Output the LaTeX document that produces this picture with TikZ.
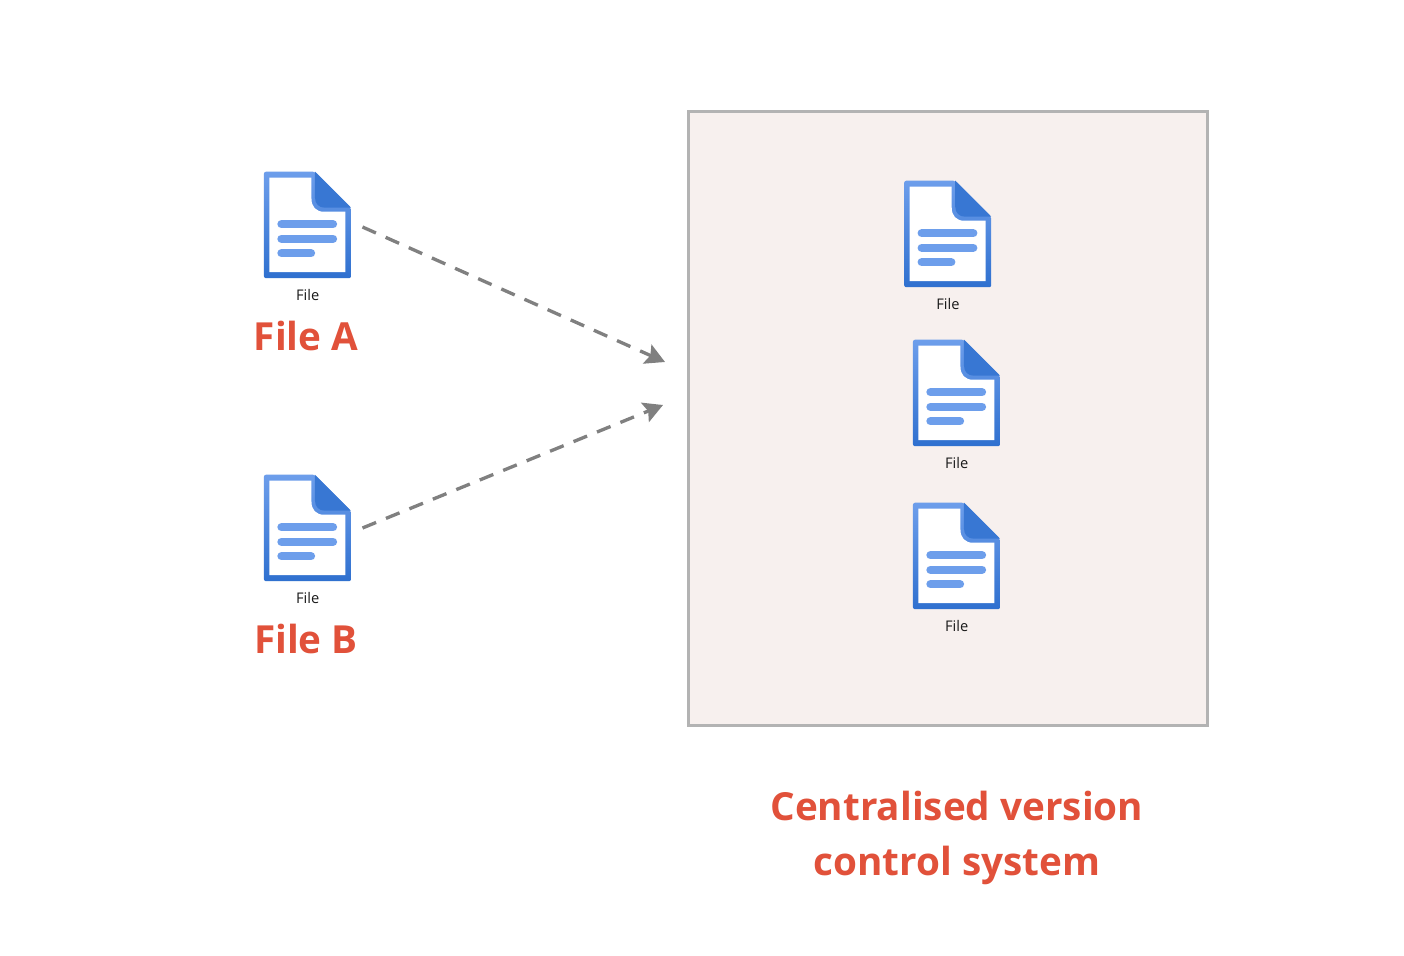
\documentclass[tikz,border=0pt]{standalone}
\usepackage{fontspec}
\setmainfont{Open Sans}
\usetikzlibrary{positioning,arrows.meta}
\definecolor{iconlight}{HTML}{6D9EEB}
\definecolor{icondark}{HTML}{2F70CF}
\definecolor{foldblue}{HTML}{3877D3}
\definecolor{titlered}{HTML}{E1513A}
\definecolor{boxfill}{HTML}{F7F0EE}
\definecolor{boxline}{HTML}{B3B3B3}
\definecolor{flowgrey}{HTML}{808080}
\tikzset{
 fileicon/.pic={
  \path[rounded corners=1.5,top color=iconlight,bottom color=icondark]
   (0,0) -- (51,0) -- (87,36) -- (87,106.5) -- (0,106.5) -- cycle;
  \fill[white] (5.5,6) -- (47.5,6) -- (47.5,27) .. controls (47.5,35) and (52,40) .. (60,40)
   -- (81.5,40) -- (81.5,100.5) -- (5.5,100.5) -- cycle;
  \fill[foldblue] (51,0) -- (87,36) -- (61,36) .. controls (55,36) and (51,32) .. (51,26) -- cycle;
  \foreach \ypos/\xend in {52.5/69,67/69,81.5/47}
   \draw[iconlight,line width=6.25pt,line cap=round] (17.5,\ypos) -- (\xend,\ypos);
 },
 filebox/.style={minimum width=65.25pt,minimum height=79.5pt,inner sep=0pt},
 filetext/.style={font=\fontsize{11}{12}\selectfont,text=black!90,inner sep=0pt},
 redtitle/.style={font=\fontsize{29}{41.5}\selectfont\bfseries,text=titlered,align=center,inner sep=0pt},
 flowline/.style={flowgrey,line width=2.5pt,dash pattern=on 11pt off 8pt,
  -{Stealth[length=14.5pt,width=15.5pt,inset=2.5pt]}},
}
\begin{document}
\begin{tikzpicture}[x=0.75pt,y=-0.75pt]
 \useasboundingbox (0,0) rectangle (1404,956);
 \fill[white] (0,0) rectangle (1404,956);
 \node [draw=boxline,fill=boxfill,line width=2.25pt,minimum width=389.25pt,minimum height=460.5pt,inner sep=0pt] (vcs) at (947.5,418.5) {};
 % files
 \node [filebox] (fileA) at (307.75,225) {};
 \node [filebox] (fileB) at (307.75,528) {};
 \node [filebox] (fileC) at (948,234) {};
 \node [filebox] (fileD) at (956.75,393) {};
 \node [filebox] (fileE) at (956.75,556) {};
 \foreach \name in {fileA,fileB,fileC,fileD,fileE} {
  \pic at (\name.north west) {fileicon};
  \node [filetext,below=8pt of \name.south] (\name text) {File};
 }
 \node [redtitle] (titleA) at (306,336) {File A};
 \node [redtitle] (titleB) at (306,639) {File B};
 \node [redtitle,below=47.75pt of vcs.south,xshift=7pt] (titleVcs) {Centralised version\\control system};
 % arrows
 \coordinate (inA) at (665,362);
 \coordinate (inB) at (663,405);
 \draw [flowline] (fileA.east) ++(11,2) coordinate (outA) -- (inA);
 \draw [flowline] (fileB.east) ++(11,0) coordinate (outB) -- (inB);
\end{tikzpicture}
\end{document}
